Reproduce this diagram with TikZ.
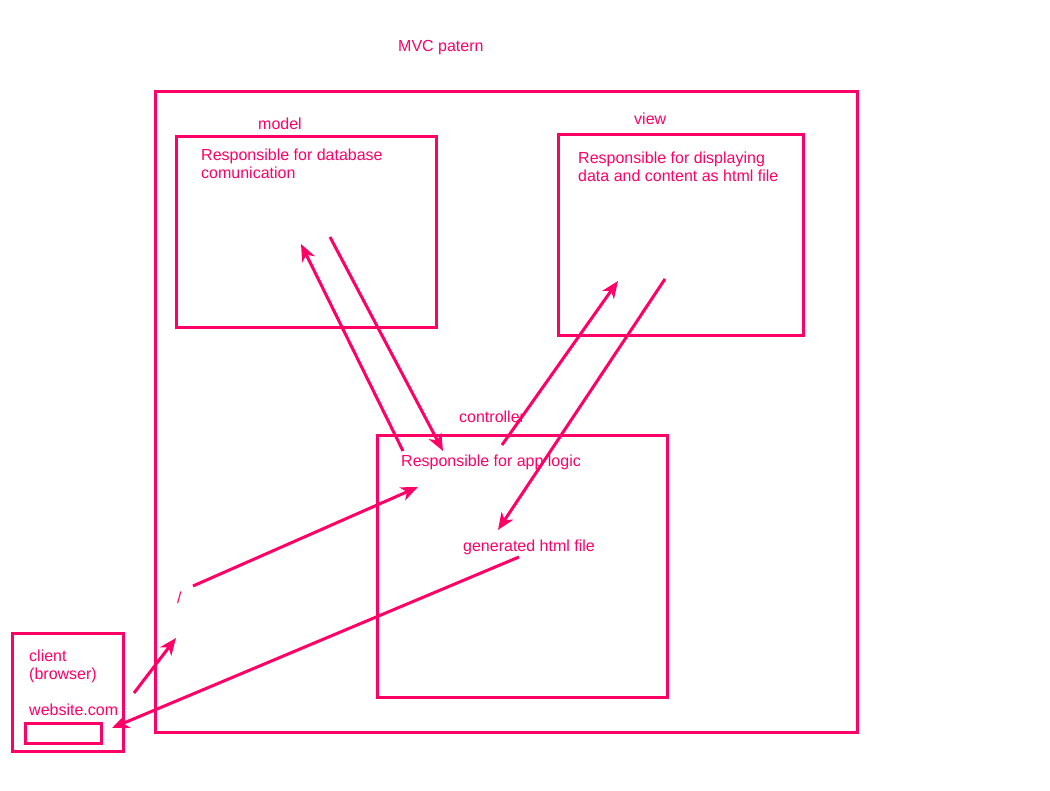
\documentclass[tikz,border=0pt]{standalone}
\usepackage{fontspec}
\setmainfont{Liberation Sans}
\usetikzlibrary{arrows.meta}
\definecolor{mvcpink}{RGB}{255,0,102}

\begin{document}
\begin{tikzpicture}[x=1pt,y=-1pt,
  box/.style={draw=mvcpink,line width=3pt},
  txt/.style={text=mvcpink,inner sep=0pt,align=left,anchor=north west,
    font=\fontsize{16}{18}\selectfont},
  flow/.style={draw=mvcpink,line width=3pt,-{Stealth[length=17pt,width=14pt,inset=5pt]}}]
  \useasboundingbox (0,0) rectangle (1050,791);
  % boxes
  \draw[box] (155,92) rectangle (857,732);
  \draw[box] (176,137) rectangle (436,328);
  \draw[box] (558,135) rectangle (803,336);
  \draw[box] (377,436) rectangle (667,697);
  \draw[box] (12,633) rectangle (123,751);
  \draw[box] (25,723) rectangle (101,743);
  % labels
  \node[txt] (title) at (398,40) {MVC patern};
  \node[txt] (modeltitle) at (258,118) {model};
  \node[txt] (modeltext) at (201,149) {Responsible for database\\comunication};
  \node[txt] (viewtitle) at (634,113) {view};
  \node[txt] (viewtext) at (578,152) {Responsible for displaying\\data and content as html file};
  \node[txt] (ctrltitle) at (459,411) {controller};
  \node[txt] (ctrltext) at (401,455) {Responsible for app logic};
  \node[txt] (html) at (463,540) {generated html file};
  \node[txt] (slash) at (177,592) {/};
  \node[txt] (client) at (29,650) {client\\(browser)};
  \node[txt] (site) at (29,704) {website.com};
  % arrow ends
  \coordinate (m1) at (403,451);
  \coordinate (m2) at (301,244);
  \coordinate (m3) at (330,237);
  \coordinate (m4) at (443,451);
  \coordinate (v1) at (502,445);
  \coordinate (v2) at (618,281);
  \coordinate (v3) at (665,279);
  \coordinate (v4) at (498,530);
  \coordinate (r1) at (193,586);
  \coordinate (r2) at (418,487);
  \coordinate (h1) at (519,557);
  \coordinate (h2) at (112,728);
  \coordinate (c1) at (134,693);
  \coordinate (c2) at (176,638);
  % arrows
  \draw[flow] (m1) -- (m2);
  \draw[flow] (m3) -- (m4);
  \draw[flow] (v1) -- (v2);
  \draw[flow] (v3) -- (v4);
  \draw[flow] (r1) -- (r2);
  \draw[flow] (h1) -- (h2);
  \draw[flow] (c1) -- (c2);
\end{tikzpicture}
\end{document}
